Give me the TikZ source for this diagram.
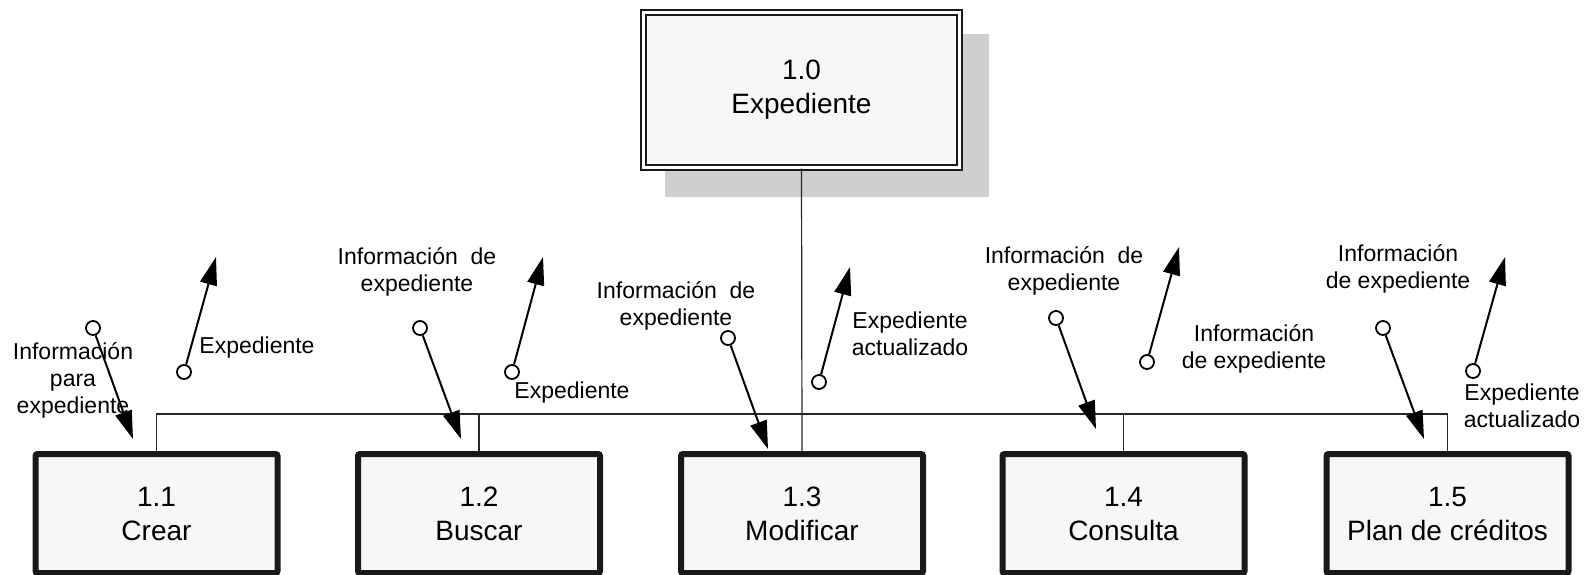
\documentclass[tikz,border=0pt]{standalone}
\usepackage{fontspec}
\setmainfont{Liberation Sans}
\usetikzlibrary{arrows.meta, positioning}
\tikzset{
  procbox/.style={draw=black!90, line width=3pt, fill=black!3, rounded corners=1pt,
    minimum width=121pt, minimum height=59.5pt, inner sep=0pt, align=center,
    font=\fontsize{14pt}{17pt}\selectfont},
  mainbox/.style={draw=black!90, double, line width=1pt, double distance=1.6pt, fill=black!3,
    minimum width=158pt, minimum height=77.5pt, inner sep=0pt, align=center,
    font=\fontsize{14pt}{17pt}\selectfont},
  flowtxt/.style={align=center, inner sep=0pt, font=\fontsize{11.5pt}{13.5pt}\selectfont},
  tail/.style={circle, draw=black, fill=white, line width=0.9pt, minimum size=7pt, inner sep=0pt},
  flow/.style={line width=1pt, -{Triangle[length=14pt, width=8.5pt]}},
  bus/.style={line width=0.6pt, black!85},
}
\begin{document}
\begin{tikzpicture}[x=0.5pt, y=-0.5pt]
  \useasboundingbox (0,0) rectangle (1594,574);
  % top process with shadow
  \fill[black!19] (665,34) rectangle (989,197);
  \node[mainbox] (expediente) at (801.5,90) {1.0\\Expediente};
  % sub processes
  \node[procbox] (crear)     at (156.5,513.5) {1.1\\Crear};
  \node[procbox] (buscar)    at (479,513.5)   {1.2\\Buscar};
  \node[procbox] (modificar) at (802,513.5)   {1.3\\Modificar};
  \node[procbox] (consulta)  at (1123.5,513.5) {1.4\\Consulta};
  \node[procbox] (plan)      at (1447.5,513.5) {1.5\\Plan de créditos};
  % tree lines
  \coordinate (bus) at (802,414);
  \draw[bus] (expediente.south) -- (modificar.north);
  \draw[bus] (crear.north) |- (plan.north |- bus) -- (plan.north);
  \draw[bus] (buscar.north) -- (buscar.north |- bus);
  \draw[bus] (consulta.north) -- (consulta.north |- bus);
  % 1.1 Crear
  \node[tail] (inCrear) at (93,328) {};
  \coordinate (inCrearTip) at (133,439);
  \node[flowtxt] (inCrearTxt) at (73,380) {Información\\para\\expediente};
  \draw[flow] (inCrear) -- (inCrearTip);
  \node[tail] (outCrear) at (184,372) {};
  \coordinate (outCrearTip) at (216,257);
  \node[flowtxt] (outCrearTxt) at (257,348) {Expediente};
  \draw[flow] (outCrear) -- (outCrearTip);
  % 1.2 Buscar
  \node[tail] (inBuscar) at (420,328) {};
  \coordinate (inBuscarTip) at (461,439);
  \node[flowtxt] (inBuscarTxt) at (417,272) {Información~ de\\expediente};
  \draw[flow] (inBuscar) -- (inBuscarTip);
  \node[tail] (outBuscar) at (512,372) {};
  \coordinate (outBuscarTip) at (543,257);
  \node[flowtxt] (outBuscarTxt) at (572,393) {Expediente};
  \draw[flow] (outBuscar) -- (outBuscarTip);
  % 1.3 Modificar
  \node[tail] (inModificar) at (728,338) {};
  \coordinate (inModificarTip) at (768,449);
  \node[flowtxt] (inModificarTxt) at (676,306) {Información~ de\\expediente};
  \draw[flow] (inModificar) -- (inModificarTip);
  \node[tail] (outModificar) at (819,382) {};
  \coordinate (outModificarTip) at (850,267);
  \node[flowtxt] (outModificarTxt) at (910,334) {Expediente\\actualizado};
  \draw[flow] (outModificar) -- (outModificarTip);
  % 1.4 Consulta
  \node[tail] (inConsulta) at (1056,318) {};
  \coordinate (inConsultaTip) at (1096,429);
  \node[flowtxt] (inConsultaTxt) at (1064,271) {Información~ de\\expediente};
  \draw[flow] (inConsulta) -- (inConsultaTip);
  \node[tail] (outConsulta) at (1147,362) {};
  \coordinate (outConsultaTip) at (1179,247);
  \node[flowtxt] (outConsultaTxt) at (1254,349) {Información\\de expediente};
  \draw[flow] (outConsulta) -- (outConsultaTip);
  % 1.5 Plan de creditos
  \node[tail] (inPlan) at (1383,328) {};
  \coordinate (inPlanTip) at (1424,439);
  \node[flowtxt] (inPlanTxt) at (1398,269) {Información\\de expediente};
  \draw[flow] (inPlan) -- (inPlanTip);
  \node[tail] (outPlan) at (1473,371) {};
  \coordinate (outPlanTip) at (1505,257);
  \node[flowtxt] (outPlanTxt) at (1522,406) {Expediente\\actualizado};
  \draw[flow] (outPlan) -- (outPlanTip);
\end{tikzpicture}
\end{document}
